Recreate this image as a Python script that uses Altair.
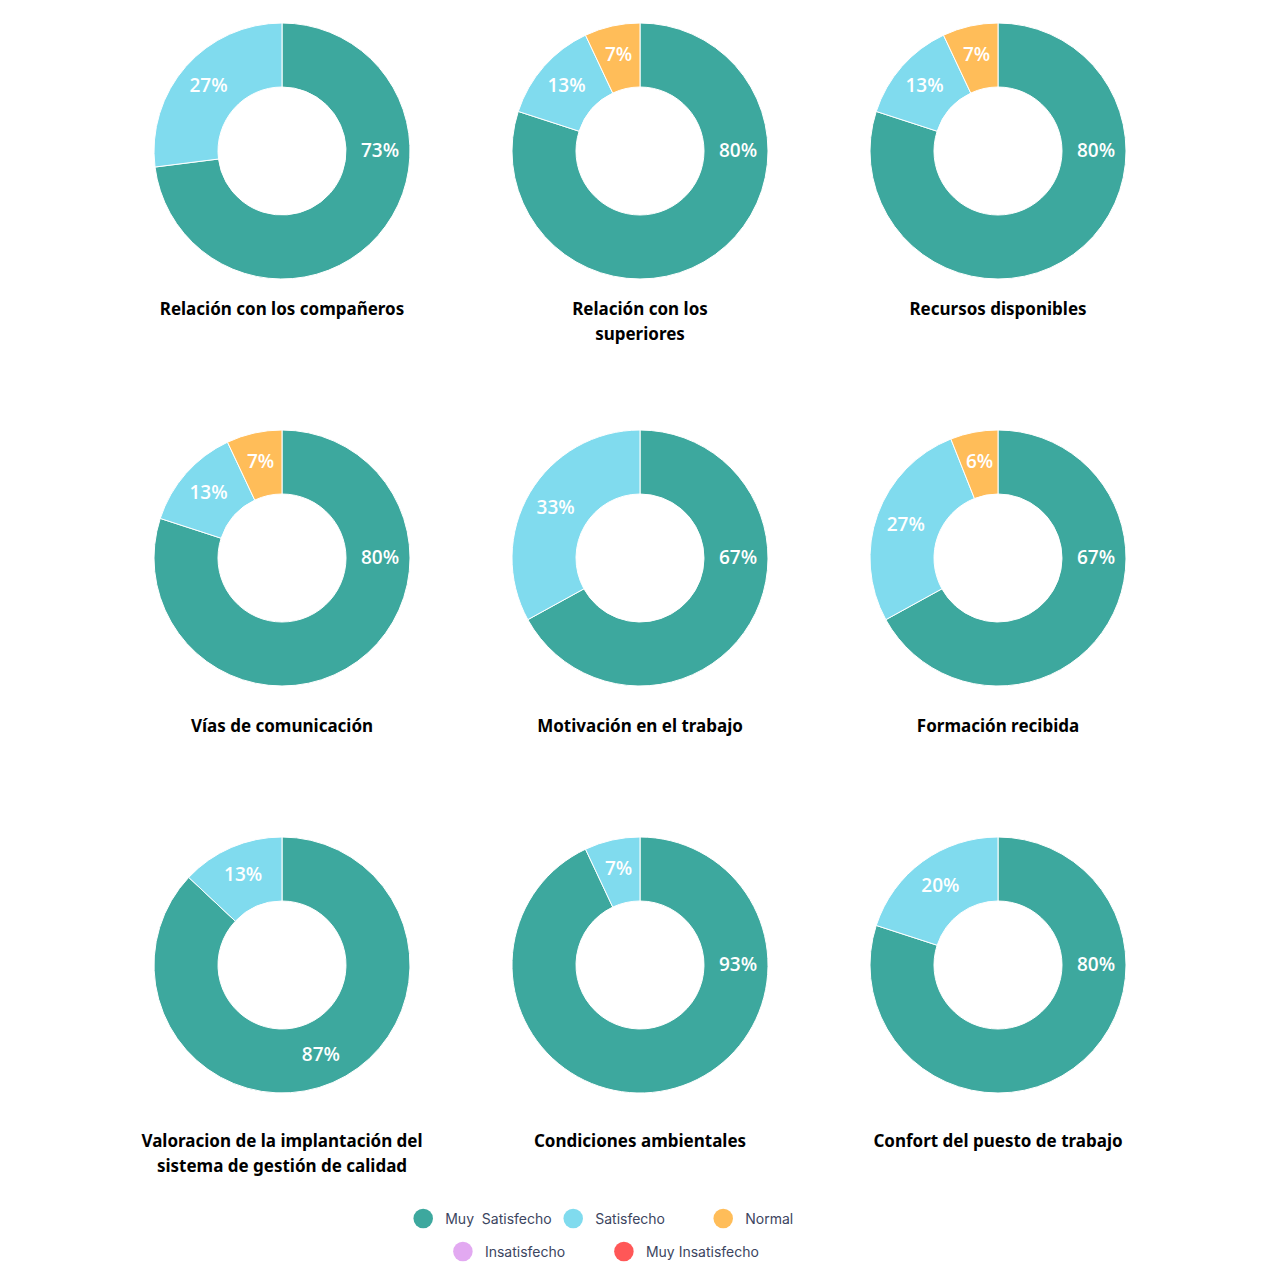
import altair as alt
import pandas as pd

# ---- data ----
categories = ["Muy Satisfecho", "Satisfecho", "Normal", "Insatisfecho", "Muy Insatisfecho"]
legend_labels = ["Muy\u00a0 Satisfecho", "Satisfecho", "Normal", "Insatisfecho", "Muy Insatisfecho"]
colors = ["#3DA89E", "#80DBEE", "#FFBD59", "#E2A9F1", "#FF5757"]

titles = [
    ["Relación con los compañeros"],
    ["Relación con los", "superiores"],
    ["Recursos disponibles"],
    ["Vías de comunicación"],
    ["Motivación en el trabajo"],
    ["Formación recibida"],
    ["Valoracion de la implantación del", "sistema de gestión de calidad"],
    ["Condiciones ambientales"],
    ["Confort del puesto de trabajo"],
]
muy_satisfecho = [73, 80, 80, 80, 67, 67, 87, 93, 80]
satisfecho = [27, 13, 13, 13, 33, 27, 13, 7, 20]
normal = [0, 7, 7, 7, 0, 6, 0, 0, 0]
insatisfecho = [0, 0, 0, 0, 0, 0, 0, 0, 0]
muy_insatisfecho = [0, 0, 0, 0, 0, 0, 0, 0, 0]

# ---- style ----
# label of the largest slice drawn at the side (3 o'clock) instead of the slice middle
label_beside = [True, True, True, True, True, True, False, True, True]
title_offset_by_row = [19, 29, 37]

color_scale = alt.Scale(domain=categories, range=colors)

PANEL_W = 340
PANEL_H = 264


def panel(i):
    vals = [muy_satisfecho[i], satisfecho[i], normal[i], insatisfecho[i], muy_insatisfecho[i]]
    df = pd.DataFrame({"category": categories, "value": vals, "order": list(range(len(categories)))})
    df = df[df["value"] > 0]
    base = alt.Chart(df)
    arc = base.mark_arc(outerRadius=128, innerRadius=64, stroke="white", strokeWidth=1).encode(
        theta=alt.Theta("value:Q", stack=True),
        color=alt.Color("category:N", scale=color_scale, legend=None),
        order=alt.Order("order:Q"),
    )
    beside = "true" if label_beside[i] else "false"
    text = (
        base.transform_window(cum="sum(value)", sort=[alt.SortField("order")])
        .transform_joinaggregate(total="sum(value)")
        .transform_calculate(
            mid="(datum.cum - datum.value / 2) / datum.total * 2 * PI",
            pct="datum.value + '%'",
        )
        .transform_calculate(ang=f"(datum.order == 0 && {beside}) ? PI / 2 : datum.mid")
        .mark_text(radius=98, font="Open Sans", fontSize=19, fontWeight=600, color="white")
        .encode(theta=alt.Theta("ang:Q", scale=None, stack=False), text="pct:N")
    )
    return (
        alt.layer(arc, text)
        .resolve_scale(theta="independent")
        .properties(
            width=PANEL_W,
            height=PANEL_H,
            title=alt.TitleParams(
                text=titles[i],
                orient="bottom",
                anchor="middle",
                font="Noto Sans",
                fontSize=17,
                fontWeight="bold",
                color="#000000",
                offset=title_offset_by_row[i // 3],
                lineHeight=25,
            ),
        )
    )


grid = alt.concat(
    *[panel(i) for i in range(9)],
    columns=3,
    spacing={"row": 143, "column": 18},
    bounds="flush",
)

# ---- custom centred legend (two rows) ----
leg_df = pd.DataFrame(
    {"label": legend_labels, "category": categories, "row": [1, 1, 1, 2, 2]}
)


def legend_row(r, padding, align):
    sub = leg_df[leg_df["row"] == r]
    x = alt.X(
        "label:N",
        sort=list(sub["label"]),
        scale=alt.Scale(type="point", padding=padding, align=align),
        axis=None,
    )
    y = alt.Y("row:O", scale=alt.Scale(type="point", padding=0.5), axis=None)
    src = alt.Chart(sub)
    dots = src.mark_circle(size=380, opacity=1).encode(
        x=x, y=y, color=alt.Color("category:N", scale=color_scale, legend=None)
    )
    labels = src.mark_text(
        align="left", dx=22, dy=1, font="Inter", fontSize=14, color="#3C4560"
    ).encode(x=x, y=y, text="label:N")
    return alt.layer(dots, labels)


legend = (
    alt.layer(legend_row(1, 0.61, 0.135), legend_row(2, 1, 0.2))
    .resolve_scale(x="independent")
    .properties(width=483, height=66)
)

chart = (
    alt.vconcat(grid, legend, spacing=27, center=True)
    .properties(padding={"left": 112, "top": 19, "right": 5, "bottom": 5}, background="white")
    .configure_view(strokeWidth=0)
)

chart.save("out.html", embed_options={"renderer": "svg", "actions": False})
